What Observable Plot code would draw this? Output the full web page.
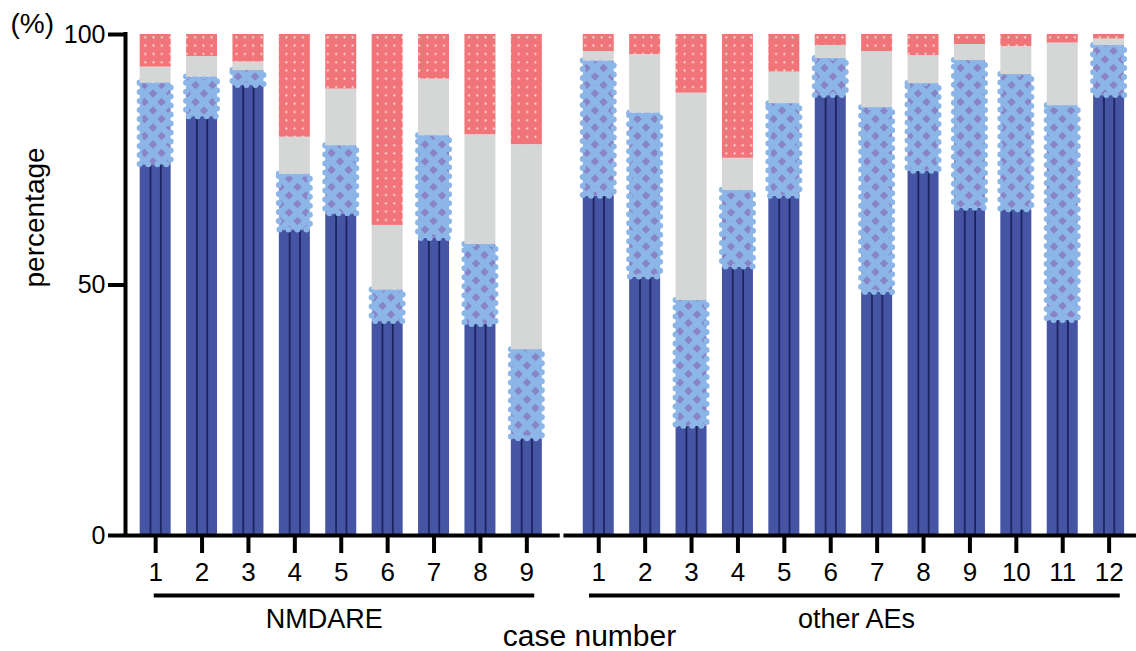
<!DOCTYPE html>
<html>
<head>
<meta charset="utf-8">
<script src="https://cdn.jsdelivr.net/npm/d3@7"></script>
<script src="https://cdn.jsdelivr.net/npm/@observablehq/plot@0.6"></script>
<style>
  html, body { margin: 0; padding: 0; background: #fff; }
  body { font-family: "Liberation Sans", Arial, sans-serif; }
</style>
</head>
<body>
<div id="chart"></div>
<script>
// ---------- data ----------
const groupNames = ["NMDARE", "other AEs"];
const nmdareCases = ["1", "2", "3", "4", "5", "6", "7", "8", "9"];
const otherCases = ["1", "2", "3", "4", "5", "6", "7", "8", "9", "10", "11", "12"];
const seriesNames = ["dark", "cross", "grey", "red"];

// percentages per segment (bottom to top)
const nmdareDark  = [74.0, 83.6, 89.8, 61.0, 64.2, 42.7, 59.3, 42.1, 19.3];
const nmdareCross = [16.3,  7.9,  3.0, 11.1, 13.6,  6.3, 20.5, 16.0, 17.8];
const nmdareGrey  = [ 3.2,  4.1,  1.7,  7.4, 11.3, 12.9, 11.3, 21.9, 40.9];
const nmdareRed   = [ 6.5,  4.4,  5.5, 20.5, 10.9, 38.1,  8.9, 20.0, 22.0];

const otherDark  = [67.7, 51.6, 21.8, 53.6, 67.7, 87.8, 48.5, 72.7, 65.3, 65.0, 42.9, 87.8];
const otherCross = [27.0, 32.7, 25.1, 15.3, 18.5,  7.4, 36.9, 17.5, 29.5, 27.0, 42.9, 10.0];
const otherGrey  = [ 1.9, 11.7, 41.4,  6.4,  6.3,  2.6, 11.2,  5.6,  3.2,  5.6, 12.5,  1.3];
const otherRed   = [ 3.4,  4.0, 11.7, 24.7,  7.5,  2.2,  3.4,  4.2,  2.0,  2.4,  1.7,  0.9];

const yTicks = [0, 50, 100];

// ---------- build table ----------
const groups = [
  {name: groupNames[0], cases: nmdareCases, series: [nmdareDark, nmdareCross, nmdareGrey, nmdareRed]},
  {name: groupNames[1], cases: otherCases, series: [otherDark, otherCross, otherGrey, otherRed]}
];
const gapUnits = 1.55;
const segs = [], ticks = [], spans = [];
let pos = 0;
groups.forEach((g, gi) => {
  if (gi > 0) pos += gapUnits - 1;
  const first = pos;
  g.cases.forEach((c, ci) => {
    let base = 0;
    seriesNames.forEach((s, si) => {
      const v = g.series[si][ci];
      segs.push({pos, series: s, y1: base, y2: base + v});
      base += v;
    });
    ticks.push({pos, label: c});
    pos += 1;
  });
  spans.push({name: g.name, first, last: pos - 1});
});
const tickLabel = new Map(ticks.map(t => [t.pos, t.label]));
const xDomain = [-0.65, 21.14];
const halfW = 0.334;
const bySeries = s => segs.filter(d => d.series === s);
const darkSegs = bySeries("dark");
const darkLines = darkSegs.flatMap(d => [
  {x: d.pos - halfW / 3, y2: d.y2},
  {x: d.pos + halfW / 3, y2: d.y2}
]);
const axisSegs = [
  {x1: xDomain[0], x2: spans[0].last + 0.72},
  {x1: spans[1].first - 0.75, x2: xDomain[1]}
];
const underlines = [
  {x1: spans[0].first - 0.03, x2: spans[0].last + 0.17},
  {x1: spans[1].first - 0.2, x2: spans[1].last + 0.24}
];
const rectOpts = {x1: d => d.pos - halfW, x2: d => d.pos + halfW, y1: "y1", y2: "y2"};

const svg = Plot.plot({
  width: 1136,
  height: 651,
  marginLeft: 125,
  marginRight: 0,
  marginTop: 34,
  marginBottom: 116,
  style: {fontFamily: "'Liberation Sans', Arial, sans-serif", fontSize: "25px", background: "white", color: "black"},
  x: {domain: xDomain, axis: null},
  y: {domain: [0, 100], axis: null},
  marks: [
    Plot.rectY(darkSegs, {...rectOpts, fill: "#4554a3"}),
    Plot.ruleX(darkLines, {x: "x", y1: 0, y2: "y2", stroke: "#1d2560", strokeWidth: 1.8}),
    Plot.rectY(bySeries("cross"), {...rectOpts, fill: "url(#pCross)", stroke: "#8cb6e7", strokeWidth: 6, strokeDasharray: "0 9", strokeLinecap: "round"}),
    Plot.rectY(bySeries("grey"), {...rectOpts, fill: "#d5d6d6"}),
    Plot.rectY(bySeries("red"), {...rectOpts, fill: "url(#pDots)"}),
    // axes
    Plot.axisY({ticks: yTicks, tickSize: 17, tickPadding: 3, strokeWidth: 4, fontSize: 25, label: null, tickFormat: d => String(d)}),
    Plot.axisX({ticks: ticks.map(t => t.pos), tickFormat: d => tickLabel.get(d), tickSize: 18, tickPadding: 9, strokeWidth: 4, fontSize: 26, label: null}),
    Plot.ruleX([xDomain[0]], {x: d => d, y1: 0, y2: 100, strokeWidth: 4, strokeLinecap: "square"}),
    Plot.ruleY(axisSegs, {y: 0, x1: "x1", x2: "x2", strokeWidth: 4}),
    // group underlines and labels
    Plot.ruleY(underlines, {y: 0, x1: "x1", x2: "x2", dy: 60, strokeWidth: 4}),
    Plot.text([spans[0]], {x: d => (d.first + d.last) / 2, y: 0, text: "name", dy: 92, dx: -17, lineAnchor: "bottom", fontSize: 27}),
    Plot.text([spans[1]], {x: d => (d.first + d.last) / 2, y: 0, text: "name", dy: 92, dx: 2.5, lineAnchor: "bottom", fontSize: 27}),
    // titles
    Plot.text(["case number"], {text: d => d, frameAnchor: "bottom", dx: -41.5, dy: 110, lineAnchor: "bottom", fontSize: 30}),
    Plot.text(["percentage"], {text: d => d, frameAnchor: "left", rotate: -90, dx: -82, dy: 2.5, lineAnchor: "bottom", fontSize: 28}),
    Plot.text(["(%)"], {text: d => d, frameAnchor: "top-left", dx: -115, dy: -2, textAnchor: "start", lineAnchor: "bottom", fontSize: 28})
  ]
});

// patterns
const defs = d3.select(svg).insert("defs", ":first-child");
const pc = defs.append("pattern").attr("id", "pCross").attr("patternUnits", "userSpaceOnUse")
  .attr("width", 17).attr("height", 17);
pc.append("rect").attr("width", 17).attr("height", 17).attr("fill", "#8884c5");
pc.append("path").attr("d", "M-4,-4L21,21M21,-4L-4,21").attr("stroke", "#8cb6e7").attr("stroke-width", 6).attr("fill", "none");
const pd = defs.append("pattern").attr("id", "pDots").attr("patternUnits", "userSpaceOnUse")
  .attr("width", 8.3).attr("height", 8.3);
pd.append("rect").attr("width", 8.3).attr("height", 8.3).attr("fill", "#f07478");
pd.append("circle").attr("cx", 4.15).attr("cy", 4.15).attr("r", 1.05).attr("fill", "#fde6e4");

document.getElementById("chart").appendChild(svg);
</script>
</body>
</html>
